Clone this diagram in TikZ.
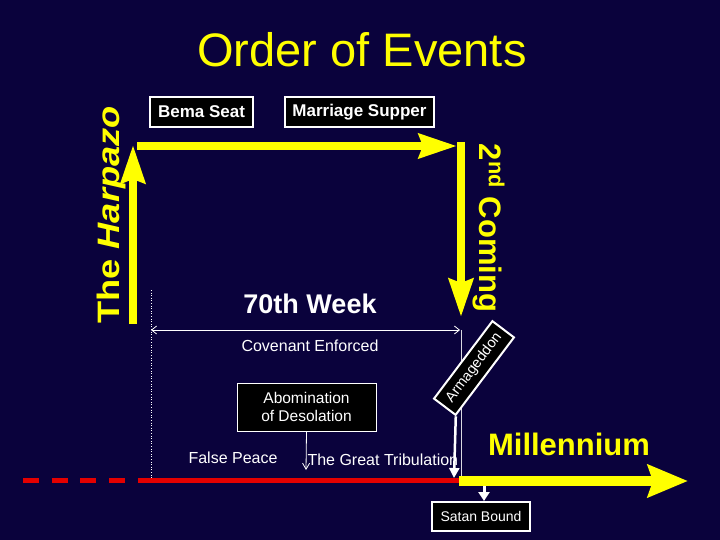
\documentclass[tikz,border=0pt]{standalone}
\usepackage{fontspec}
\setmainfont{Liberation Sans}
\usetikzlibrary{arrows.meta}
\definecolor{bg}{RGB}{10,2,60}
\definecolor{yel}{RGB}{255,255,0}
\definecolor{redl}{RGB}{228,0,0}
\begin{document}
\begin{tikzpicture}[x=1pt,y=-1pt,
  blackbox/.style={draw=white, fill=black, line width=1.2pt, text=white, inner sep=0pt, align=center},
  yarrow/.style={draw=yel, line width=8pt, -{Stealth[length=38pt,width=24pt,inset=4pt]}},
  thinwhite/.style={draw=white, line width=0.8pt},
  fs/.style={font=\fontsize{#1}{#1}\selectfont},
  fsb/.style={font=\fontsize{#1}{#1}\selectfont\bfseries}
]
\fill[bg] (0,0) rectangle (720,540);
\useasboundingbox (0,0) rectangle (720,540);

% title
\node[fs=47, text=yel] (title) at (362,50) {Order of Events};

% top boxes
\node[blackbox, fsb=17, minimum width=103pt, minimum height=30pt] (bema) at (201.5,112) {Bema Seat};
\node[blackbox, fsb=17, minimum width=149pt, minimum height=30pt] (supper) at (359.5,112) {Marriage Supper};

% yellow path
\coordinate (hbot) at (133,324);
\coordinate (htop) at (133,145);
\coordinate (tl) at (137,146);
\coordinate (tr) at (457,146);
\coordinate (ctop) at (461,142);
\coordinate (cbot) at (461,317);
\draw[yarrow] (hbot) -- (htop);
\draw[yarrow] (tl) -- (tr);
\draw[yarrow] (ctop) -- (cbot);

\node[fsb=31, text=yel, rotate=90] (harpazo) at (111,215) {\scalebox{1.17}[1]{The \textit{Harpazo}}};
\node[fsb=31, text=yel, rotate=-90] (coming) at (489,228) {2\textsuperscript{nd} Coming};

% 70th week
\node[fsb=27, text=white] (week) at (310,304) {70th Week};
\coordinate (dtop) at (151,290);
\coordinate (dbot) at (151,479);
\draw[white, dotted, line width=0.6pt] (dtop) -- (dbot);
\coordinate (wl) at (151,330);
\coordinate (wr) at (460,330);
\draw[thinwhite, {Straight Barb[length=5pt,width=8pt]}-{Straight Barb[length=5pt,width=8pt]}] (wl) -- (wr);
\coordinate (vb) at (461,478);
\draw[white!85!bg, line width=0.7pt] (461,330) -- (vb);
\node[fs=16, text=white] (cov) at (310,346) {Covenant Enforced};

% abomination
\node[blackbox, fs=15.5, line width=0.9pt, minimum width=139pt, minimum height=48pt] (abom) at (306.5,407) {Abomination\\[3pt]of Desolation};
\coordinate (abtip) at (306,470);
\draw[thinwhite, -{Straight Barb[length=6pt,width=7pt]}] (abom.south) -- (abtip);

\node[fs=16, text=white] (peace) at (233,458) {False Peace};
\node[fs=16, text=white, anchor=west] (trib) at (304,460) {The Great Tribulation};

% armageddon
\node[blackbox, fs=14.5, line width=2pt, rotate=53, minimum width=97pt, minimum height=27pt] (arm) at (474,368) {Armageddon};
\coordinate (armtip) at (454,478);
\draw[white, line width=2.5pt, -{Triangle[length=10pt,width=10pt]}] (arm.south west) -- (armtip);

% timeline
\coordinate (rl0) at (23,480);
\coordinate (rl1) at (151,480);
\coordinate (rl2) at (461,480);
\draw[redl, line width=5pt, dash pattern=on 16pt off 12.7pt] (rl0) -- (rl1);
\draw[redl, line width=5pt] (rl1) -- (rl2);
\coordinate (ml0) at (459,481);
\coordinate (ml1) at (688,481);
\draw[draw=yel, line width=10pt, -{Stealth[length=40pt,width=32pt,inset=5pt]}] (ml0) -- (ml1);
\node[fsb=31, text=yel] (mill) at (569,444) {Millennium};

% satan bound
\node[blackbox, fs=14, line width=2pt, minimum width=98pt, minimum height=29pt] (satan) at (481,516.5) {Satan Bound};
\coordinate (sbtop) at (484,486);
\draw[white, line width=3pt, -{Triangle[length=9pt,width=11pt]}] (sbtop) -- (sbtop |- satan.north);
\end{tikzpicture}
\end{document}
